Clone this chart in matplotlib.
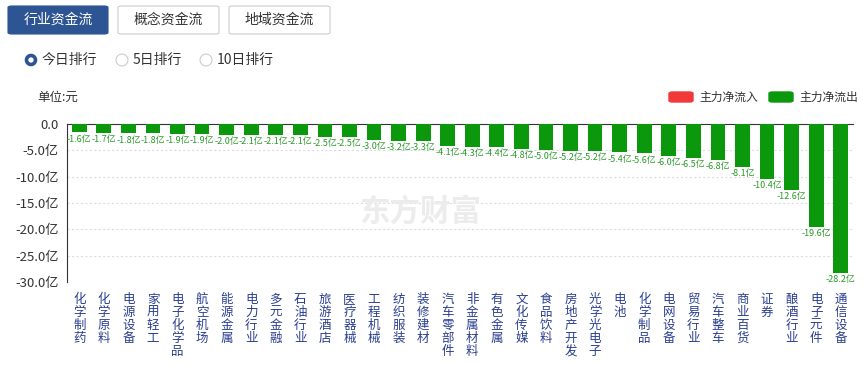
import matplotlib
matplotlib.use("Agg")
import matplotlib.pyplot as plt
from matplotlib.patches import FancyBboxPatch, Circle
import numpy as np

plt.rcParams['font.family'] = ['Noto Sans CJK SC', 'DejaVu Sans']

categories = ["化学制药", "化学原料", "电源设备", "家用轻工", "电子化学品", "航空机场", "能源金属",
              "电力行业", "多元金融", "石油行业", "旅游酒店", "医疗器械", "工程机械", "纺织服装",
              "装修建材", "汽车零部件", "非金属材料", "有色金属", "文化传媒", "食品饮料", "房地产开发",
              "光学光电子", "电池", "化学制品", "电网设备", "贸易行业", "汽车整车", "商业百货", "证券",
              "酿酒行业", "电子元件", "通信设备"]
values = [-1.6, -1.7, -1.8, -1.8, -1.9, -1.9, -2.0, -2.1, -2.1, -2.1, -2.5, -2.5, -3.0, -3.2,
          -3.3, -4.1, -4.3, -4.4, -4.8, -5.0, -5.2, -5.2, -5.4, -5.6, -6.0, -6.5, -6.8, -8.1,
          -10.4, -12.6, -19.6, -28.2]
yticks = [0, -5, -10, -15, -20, -25, -30]
ytick_labels = ["0.0", "-5.0亿", "-10.0亿", "-15.0亿", "-20.0亿", "-25.0亿", "-30.0亿"]

W, H = 868, 366
fig = plt.figure(figsize=(W/100, H/100), dpi=100)

def fx(px): return px / W
def fy(py): return 1 - py / H

ax = fig.add_axes([fx(67), fy(282), fx(853) - fx(67), fy(124) - fy(282)])
green = "#0c980c"
x = np.arange(len(categories))
ax.bar(x, values, width=0.6, color=green, zorder=3)
ax.set_ylim(-30, 0)
ax.set_xlim(-0.5, len(categories) - 0.5)
for xi, v in zip(x, values):
    ax.text(xi, v - 0.4, f"{v:.1f}亿", ha="center", va="top", fontsize=6.5, color="#2a9a2a", zorder=4)

ax.set_yticks(yticks)
ax.set_yticklabels(ytick_labels, fontsize=9.5, color="#333333")
ax.tick_params(axis="y", length=0, pad=6)
ax.set_xticks(x)
ax.set_xticklabels(["\n".join(c) for c in categories], fontsize=9, color="#2a3f8f",
                   va="top", linespacing=1.0)
ax.tick_params(axis="x", length=0, pad=8)
for t in yticks[1:]:
    ax.axhline(t, color="#dddddd", linestyle=(0, (2, 2)), linewidth=0.8, zorder=1)
for s in ["right", "bottom"]:
    ax.spines[s].set_visible(False)
ax.spines["top"].set_color("#333333")
ax.spines["left"].set_color("#333333")
ax.set_facecolor("none")

# watermark
fig.text(fx(420), fy(212), "东方财富", fontsize=22, color="#ececec", ha="center", va="center",
         fontweight="bold", zorder=0)

# unit label
fig.text(fx(37), fy(97), "单位:元", fontsize=9, color="#333333", ha="left", va="center")

# legend
fig.patches.append(FancyBboxPatch((fx(669), fy(102)), fx(24), fy(92) - fy(102),
                                  boxstyle="round,pad=0,rounding_size=0.004", color="#f03a3a",
                                  transform=fig.transFigure))
fig.text(fx(699), fy(97), "主力净流入", fontsize=8.5, color="#333333", va="center")
fig.patches.append(FancyBboxPatch((fx(769), fy(102)), fx(24), fy(92) - fy(102),
                                  boxstyle="round,pad=0,rounding_size=0.004", color=green,
                                  transform=fig.transFigure))
fig.text(fx(799), fy(97), "主力净流出", fontsize=8.5, color="#333333", va="center")

# buttons
buttons = [("行业资金流", 8, 108, True), ("概念资金流", 118, 219, False), ("地域资金流", 229, 330, False)]
for label, x0, x1, active in buttons:
    fc = "#2d5594" if active else "white"
    ec = "#2d5594" if active else "#cccccc"
    fig.patches.append(FancyBboxPatch((fx(x0), fy(34)), fx(x1 - x0), fy(6) - fy(34),
                                      boxstyle="round,pad=0,rounding_size=0.004", fc=fc, ec=ec,
                                      linewidth=0.8, transform=fig.transFigure))
    fig.text(fx((x0 + x1) / 2), fy(20), label, fontsize=10, ha="center", va="center",
             color="white" if active else "#333333")

# radio buttons
radios = [("今日排行", 31, True), ("5日排行", 122, False), ("10日排行", 206, False)]
for label, cx, active in radios:
    ax_r = fig.add_axes([fx(cx - 7), fy(67), fx(14), fy(53) - fy(67)])
    ax_r.set_xlim(-1, 1); ax_r.set_ylim(-1, 1); ax_r.axis("off")
    if active:
        ax_r.add_patch(Circle((0, 0), 0.9, fc="#2d5594", ec="none"))
        ax_r.add_patch(Circle((0, 0), 0.38, fc="white", ec="none"))
    else:
        ax_r.add_patch(Circle((0, 0), 0.85, fc="white", ec="#cccccc", lw=0.8))
    fig.text(fx(cx + 11), fy(60), label, fontsize=10, ha="left", va="center", color="#333333")

fig.savefig("out.png", dpi=100)
